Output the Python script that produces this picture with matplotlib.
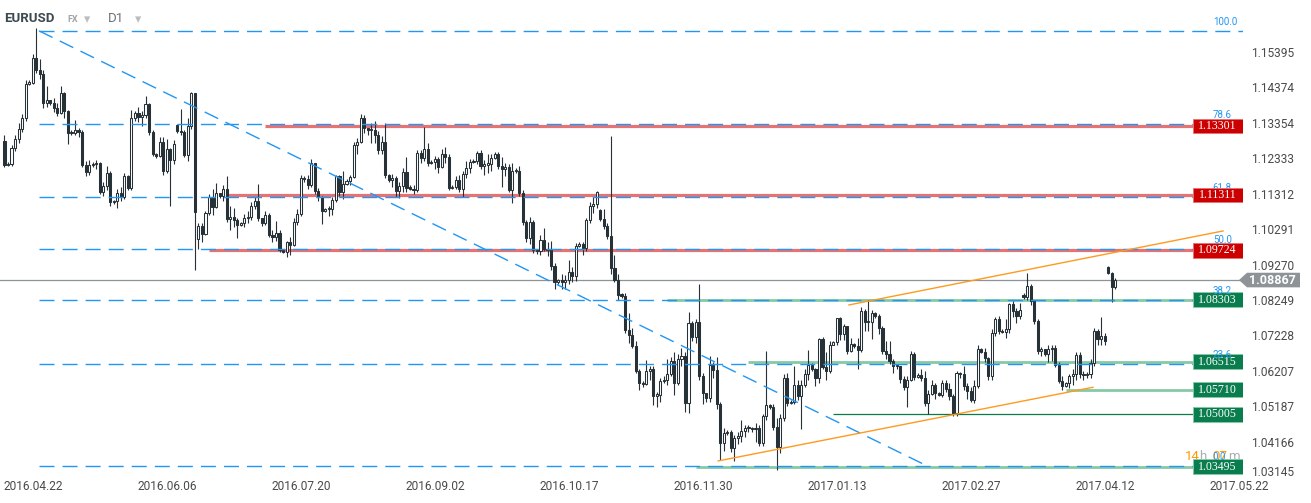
import matplotlib
matplotlib.use("Agg")
import numpy as np
import matplotlib.pyplot as plt
from matplotlib.patches import Rectangle, Polygon
from matplotlib.transforms import blended_transform_factory

plt.rcParams["font.family"] = ["Roboto", "DejaVu Sans"]
plt.rcParams["lines.scale_dashes"] = False

# ---- data (EURUSD D1, one candle per session incl. Sunday candles) ----
first_open = 1.1287
closes = [
    1.1218, 1.1222, 1.1266, 1.1294, 1.1322, 1.1352, 1.1452, 1.1455, 1.1525, 1.1491,
    1.1480, 1.1397, 1.1404, 1.1396, 1.1381, 1.1367, 1.1424, 1.1372, 1.1309, 1.1311,
    1.1320, 1.1312, 1.1218, 1.1198, 1.1218, 1.1221, 1.1224, 1.1140, 1.1156, 1.1194,
    1.1110, 1.1114, 1.1136, 1.1127, 1.1186, 1.1152, 1.1352, 1.1367, 1.1355, 1.1362,
    1.1392, 1.1312, 1.1250, 1.1244, 1.1283, 1.1200, 1.1264, 1.1231, 1.1277, 1.1316,
    1.1312, 1.1246, 1.1330, 1.1424, 1.1083, 1.1042, 1.1018, 1.1079, 1.1127, 1.1098,
    1.1136, 1.1128, 1.1148, 1.1062, 1.1068, 1.1060, 1.1046, 1.1051, 1.1065, 1.1068,
    1.1099, 1.1113, 1.1065, 1.1052, 1.1075, 1.1017, 1.1010, 1.1022, 1.0972, 1.0967,
    1.0995, 1.0988, 1.1055, 1.1078, 1.1180, 1.1178, 1.1160, 1.1223, 1.1144, 1.1125,
    1.1084, 1.1090, 1.1091, 1.1118, 1.1185, 1.1139, 1.1162, 1.1172, 1.1182, 1.1276,
    1.1285, 1.1352, 1.1323, 1.1318, 1.1320, 1.1305, 1.1261, 1.1283, 1.1190, 1.1175,
    1.1180, 1.1142, 1.1158, 1.1199, 1.1152, 1.1150, 1.1145, 1.1252, 1.1238, 1.1263,
    1.1223, 1.1227, 1.1234, 1.1213, 1.1249, 1.1240, 1.1151, 1.1154, 1.1175, 1.1150,
    1.1192, 1.1208, 1.1227, 1.1230, 1.1252, 1.1216, 1.1219, 1.1222, 1.1237, 1.1250,
    1.1214, 1.1206, 1.1212, 1.1147, 1.1200, 1.1202, 1.1137, 1.1053, 1.1008, 1.1055,
    1.0974, 1.0970, 1.1003, 1.0976, 1.0974, 1.0926, 1.0880, 1.0886, 1.0880, 1.0888,
    1.0909, 1.0897, 1.0986, 1.0990, 1.0978, 1.1059, 1.1101, 1.1106, 1.1140, 1.1062,
    1.1043, 1.1013, 1.0920, 1.0888, 1.0845, 1.0842, 1.0744, 1.0728, 1.0698, 1.0626,
    1.0590, 1.0588, 1.0625, 1.0630, 1.0554, 1.0557, 1.0595, 1.0600, 1.0616, 1.0653,
    1.0590, 1.0660, 1.0668, 1.0533, 1.0763, 1.0722, 1.0765, 1.0611, 1.0561, 1.0548,
    1.0642, 1.0628, 1.0531, 1.0419, 1.0446, 1.0448, 1.0403, 1.0432, 1.0438, 1.0451,
    1.0460, 1.0462, 1.0458, 1.0460, 1.0419, 1.0494, 1.0528, 1.0522, 1.0463, 1.0405,
    1.0490, 1.0605, 1.0533, 1.0535, 1.0586, 1.0554, 1.0586, 1.0615, 1.0642, 1.0630,
    1.0604, 1.0717, 1.0637, 1.0625, 1.0700, 1.0707, 1.0776, 1.0731, 1.0753, 1.0683,
    1.0703, 1.0697, 1.0685, 1.0798, 1.0767, 1.0765, 1.0792, 1.0784, 1.0750, 1.0683,
    1.0675, 1.0653, 1.0639, 1.0640, 1.0602, 1.0579, 1.0600, 1.0673, 1.0608, 1.0612,
    1.0605, 1.0533, 1.0560, 1.0585, 1.0562, 1.0557, 1.0590, 1.0573, 1.0552, 1.0503,
    1.0619, 1.0615, 1.0581, 1.0566, 1.0542, 1.0581, 1.0689, 1.0680, 1.0662, 1.0610,
    1.0735, 1.0774, 1.0740, 1.0737, 1.0745, 1.0818, 1.0798, 1.0784, 1.0800, 1.0838,
    1.0870, 1.0827, 1.0769, 1.0682, 1.0688, 1.0675, 1.0688, 1.0692, 1.0641, 1.0595,
    1.0583, 1.0590, 1.0610, 1.0615, 1.0672, 1.0615, 1.0612, 1.0616, 1.0648, 1.0740,
    1.0718, 1.0727, 1.0711, 1.0906, 1.0866, 1.0887,
]
highs = [
    1.1305, 1.1226, 1.1276, 1.1303, 1.1338, 1.1365, 1.1462, 1.1462, 1.1536, 1.1612,
    1.1524, 1.1490, 1.1445, 1.1405, 1.1410, 1.1395, 1.1444, 1.1428, 1.1377, 1.1318,
    1.1347, 1.1323, 1.1320, 1.1230, 1.1232, 1.1226, 1.1233, 1.1227, 1.1170, 1.1215,
    1.1200, 1.1118, 1.1150, 1.1155, 1.1196, 1.1190, 1.1375, 1.1372, 1.1385, 1.1372,
    1.1416, 1.1395, 1.1318, 1.1252, 1.1298, 1.1298, 1.1292, 1.1268, 1.1290, 1.1335,
    1.1380, 1.1318, 1.1352, 1.1428, 1.1426, 1.1050, 1.1050, 1.1085, 1.1135, 1.1150,
    1.1165, 1.1138, 1.1160, 1.1185, 1.1100, 1.1095, 1.1065, 1.1055, 1.1078, 1.1085,
    1.1110, 1.1125, 1.1163, 1.1066, 1.1085, 1.1080, 1.1030, 1.1058, 1.1030, 1.0975,
    1.1000, 1.1010, 1.1065, 1.1090, 1.1188, 1.1185, 1.1190, 1.1235, 1.1225, 1.1152,
    1.1128, 1.1095, 1.1100, 1.1125, 1.1190, 1.1190, 1.1200, 1.1178, 1.1190, 1.1285,
    1.1295, 1.1366, 1.1363, 1.1325, 1.1340, 1.1345, 1.1315, 1.1300, 1.1340, 1.1192,
    1.1192, 1.1185, 1.1170, 1.1210, 1.1240, 1.1160, 1.1160, 1.1262, 1.1262, 1.1327,
    1.1280, 1.1232, 1.1245, 1.1240, 1.1265, 1.1270, 1.1250, 1.1160, 1.1185, 1.1190,
    1.1200, 1.1230, 1.1235, 1.1235, 1.1258, 1.1260, 1.1232, 1.1250, 1.1250, 1.1255,
    1.1255, 1.1240, 1.1225, 1.1220, 1.1225, 1.1210, 1.1215, 1.1145, 1.1060, 1.1068,
    1.1060, 1.0976, 1.1015, 1.1037, 1.0995, 1.1000, 1.0935, 1.0890, 1.0905, 1.0902,
    1.0945, 1.0925, 1.0993, 1.0995, 1.0995, 1.1065, 1.1110, 1.1125, 1.1143, 1.1090,
    1.1090, 1.1050, 1.1300, 1.0960, 1.0905, 1.0850, 1.0850, 1.0792, 1.0750, 1.0710,
    1.0630, 1.0595, 1.0657, 1.0640, 1.0640, 1.0565, 1.0605, 1.0610, 1.0660, 1.0665,
    1.0680, 1.0675, 1.0690, 1.0680, 1.0796, 1.0770, 1.0775, 1.0874, 1.0620, 1.0562,
    1.0668, 1.0650, 1.0665, 1.0535, 1.0460, 1.0455, 1.0455, 1.0440, 1.0450, 1.0484,
    1.0470, 1.0468, 1.0465, 1.0475, 1.0470, 1.0500, 1.0683, 1.0530, 1.0530, 1.0490,
    1.0500, 1.0615, 1.0620, 1.0540, 1.0639, 1.0600, 1.0600, 1.0630, 1.0685, 1.0648,
    1.0633, 1.0720, 1.0722, 1.0680, 1.0710, 1.0712, 1.0778, 1.0780, 1.0760, 1.0755,
    1.0720, 1.0706, 1.0720, 1.0810, 1.0802, 1.0830, 1.0800, 1.0795, 1.0790, 1.0755,
    1.0710, 1.0710, 1.0660, 1.0643, 1.0640, 1.0610, 1.0610, 1.0683, 1.0680, 1.0618,
    1.0630, 1.0625, 1.0570, 1.0600, 1.0590, 1.0565, 1.0600, 1.0600, 1.0590, 1.0560,
    1.0625, 1.0622, 1.0640, 1.0590, 1.0580, 1.0600, 1.0700, 1.0692, 1.0690, 1.0665,
    1.0745, 1.0780, 1.0782, 1.0745, 1.0775, 1.0820, 1.0825, 1.0805, 1.0820, 1.0848,
    1.0908, 1.0875, 1.0830, 1.0775, 1.0695, 1.0688, 1.0700, 1.0700, 1.0700, 1.0650,
    1.0610, 1.0592, 1.0615, 1.0630, 1.0680, 1.0680, 1.0625, 1.0622, 1.0660, 1.0750,
    1.0745, 1.0779, 1.0735, 1.0928, 1.0910, 1.0893,
]
lows = [
    1.1212, 1.1214, 1.1215, 1.1258, 1.1282, 1.1312, 1.1345, 1.1448, 1.1450, 1.1484,
    1.1465, 1.1382, 1.1386, 1.1391, 1.1370, 1.1360, 1.1364, 1.1352, 1.1277, 1.1305,
    1.1303, 1.1298, 1.1212, 1.1185, 1.1190, 1.1212, 1.1205, 1.1134, 1.1130, 1.1145,
    1.1100, 1.1106, 1.1095, 1.1115, 1.1120, 1.1145, 1.1145, 1.1345, 1.1342, 1.1330,
    1.1352, 1.1305, 1.1243, 1.1238, 1.1240, 1.1190, 1.1196, 1.1100, 1.1222, 1.1310,
    1.1305, 1.1240, 1.1230, 1.1322, 1.0916, 1.0975, 1.0995, 1.1015, 1.1075, 1.1075,
    1.1095, 1.1122, 1.1115, 1.1055, 1.1032, 1.1040, 1.1007, 1.1043, 1.1040, 1.1052,
    1.1060, 1.1092, 1.1058, 1.1043, 1.1045, 1.1010, 1.0995, 1.1000, 1.0968, 1.0964,
    1.0953, 1.0960, 1.0985, 1.1045, 1.1070, 1.1170, 1.1150, 1.1155, 1.1135, 1.1115,
    1.1049, 1.1082, 1.1070, 1.1075, 1.1110, 1.1130, 1.1120, 1.1160, 1.1160, 1.1180,
    1.1250, 1.1282, 1.1310, 1.1305, 1.1280, 1.1280, 1.1250, 1.1250, 1.1180, 1.1170,
    1.1155, 1.1125, 1.1122, 1.1140, 1.1140, 1.1145, 1.1135, 1.1140, 1.1225, 1.1230,
    1.1215, 1.1220, 1.1205, 1.1195, 1.1210, 1.1225, 1.1145, 1.1148, 1.1150, 1.1140,
    1.1127, 1.1180, 1.1195, 1.1225, 1.1220, 1.1205, 1.1190, 1.1195, 1.1200, 1.1235,
    1.1205, 1.1155, 1.1185, 1.1140, 1.1108, 1.1195, 1.1130, 1.1045, 1.0995, 1.0990,
    1.0965, 1.0962, 1.0960, 1.0970, 1.0955, 1.0915, 1.0862, 1.0876, 1.0860, 1.0860,
    1.0875, 1.0880, 1.0885, 1.0983, 1.0960, 1.0970, 1.1050, 1.1080, 1.1095, 1.1058,
    1.1035, 1.1005, 1.0905, 1.0880, 1.0830, 1.0835, 1.0735, 1.0705, 1.0690, 1.0620,
    1.0571, 1.0580, 1.0585, 1.0600, 1.0528, 1.0520, 1.0535, 1.0590, 1.0585, 1.0610,
    1.0557, 1.0585, 1.0640, 1.0508, 1.0505, 1.0710, 1.0705, 1.0600, 1.0530, 1.0535,
    1.0535, 1.0605, 1.0515, 1.0370, 1.0395, 1.0440, 1.0392, 1.0365, 1.0415, 1.0420,
    1.0435, 1.0450, 1.0448, 1.0420, 1.0408, 1.0410, 1.0485, 1.0515, 1.0455, 1.0341,
    1.0390, 1.0480, 1.0525, 1.0530, 1.0530, 1.0540, 1.0458, 1.0580, 1.0600, 1.0625,
    1.0581, 1.0590, 1.0630, 1.0600, 1.0620, 1.0700, 1.0700, 1.0715, 1.0715, 1.0675,
    1.0680, 1.0690, 1.0630, 1.0680, 1.0740, 1.0740, 1.0716, 1.0778, 1.0730, 1.0675,
    1.0660, 1.0645, 1.0620, 1.0630, 1.0590, 1.0570, 1.0522, 1.0595, 1.0600, 1.0605,
    1.0595, 1.0525, 1.0502, 1.0555, 1.0545, 1.0553, 1.0550, 1.0565, 1.0540, 1.0496,
    1.0495, 1.0606, 1.0570, 1.0545, 1.0535, 1.0532, 1.0575, 1.0678, 1.0650, 1.0600,
    1.0600, 1.0725, 1.0730, 1.0733, 1.0721, 1.0735, 1.0780, 1.0762, 1.0775, 1.0832,
    1.0830, 1.0815, 1.0760, 1.0675, 1.0668, 1.0668, 1.0650, 1.0655, 1.0635, 1.0590,
    1.0570, 1.0580, 1.0576, 1.0585, 1.0600, 1.0605, 1.0600, 1.0605, 1.0605, 1.0640,
    1.0700, 1.0700, 1.0699, 1.0905, 1.0823, 1.0860,
]
# weekend gaps: candles whose open differs from the previous close
gap_opens = {49: 1.1333, 55: 1.1005, 169: 1.1087, 289: 1.0845, 313: 1.0925}

date_ticks = [0, 38, 76, 114, 152, 190, 228, 266, 304, 342]
date_labels = ["2016.04.22", "2016.06.06", "2016.07.20", "2016.09.02", "2016.10.17",
               "2016.11.30", "2017.01.13", "2017.02.27", "2017.04.12", "2017.05.22"]
price_ticks = [1.15395, 1.14374, 1.13354, 1.12333, 1.11312, 1.10291, 1.09270,
               1.08249, 1.07228, 1.06207, 1.05187, 1.04166, 1.03145]

last_price = 1.08867
red_levels = [1.13301, 1.11311, 1.09724]
red_starts = [74, 63, 58]
green_levels = [1.08303, 1.06515, 1.05710, 1.05005, 1.03495]
green_starts = [188, 211, 301, 235, 196]

fib_ratios = [0.0, 23.6, 38.2, 50.0, 61.8, 78.6, 100.0]
fib_low, fib_high = 1.0350, 1.1604
fib_start, fib_end = 9.8, 262

upper_trend_x, upper_trend_y = [239.5, 345.6], [1.0815, 1.1028]
lower_trend_x, lower_trend_y = [202.4, 308.7], [1.0366, 1.0578]

# ---- figure ----
W, H = 1311, 503
fig = plt.figure(figsize=(W / 100, H / 100), dpi=100)
ax = fig.add_axes([0, 24 / H, 1243 / W, 479 / H])
ax.set_xlim(-1.276, 351.25)
ax.set_ylim(1.03140, 1.16928)
ax.axis("off")
pp = (1.16928 - 1.03140) / 479  # price per pixel
tr = blended_transform_factory(ax.transAxes, ax.transData)
dark = "#263238"
blue = "#2196F3"

closes = np.array(closes)
highs = np.array(highs)
lows = np.array(lows)
opens = np.r_[first_open, closes[:-1]]
for k, v in gap_opens.items():
    opens[k] = v
idx = np.arange(len(closes))

# current price line
ax.axhline(last_price, color="#8d9396", lw=0.9, zorder=1)

# support / resistance lines
for lv, st in zip(red_levels, red_starts):
    ax.hlines(lv, st, 351.25, color="#e57373", lw=2.3, zorder=2)
for lv, st in zip(green_levels, green_starts):
    if lv == 1.05005:
        ax.hlines(lv, st, 351.25, color="#0b7a4b", lw=0.9, zorder=2)
    else:
        ax.hlines(lv, st, 351.25, color="#86c9a6", lw=2.0, zorder=2)

# candles
ax.vlines(idx, lows, highs, color=dark, lw=0.8, zorder=3)
up = closes >= opens
bot = np.minimum(opens, closes)
hgt = np.maximum(np.abs(closes - opens), 1.2 * pp)
ax.bar(idx[up], hgt[up], bottom=bot[up], width=0.6, facecolor="white",
       edgecolor=dark, lw=0.75, zorder=3.5)
ax.bar(idx[~up], hgt[~up], bottom=bot[~up], width=0.6, facecolor=dark,
       edgecolor=dark, lw=0.75, zorder=3.5)

# fibonacci retracement
dash = (10.8, 5.8)
for r in fib_ratios:
    lv = fib_low + (fib_high - fib_low) * r / 100
    ax.plot([fib_start, 351.25], [lv, lv], color=blue, lw=1.0, dashes=dash, zorder=4)
    ax.text(342.7, lv + 6 * pp, f"{r:.1f}", color=blue, fontsize=7,
            ha="left", va="baseline", zorder=6)
ax.plot([fib_start, fib_end], [fib_high, fib_low], color=blue, lw=1.0,
        dashes=dash, zorder=4)

# trend channel
ax.plot(upper_trend_x, upper_trend_y, color="#ff9a1f", lw=1.0, zorder=4)
ax.plot(lower_trend_x, lower_trend_y, color="#ff9a1f", lw=1.0, zorder=4)

# countdown text
cy = green_levels[-1] + 10.5 * pp
for txt, px, col in [("14", 1185, "#ff9800"), ("h", 1199, "#a9adb0"),
                     ("07", 1212, "#ff9800"), ("m", 1228, "#a9adb0")]:
    ax.text(px / 1243, cy, txt, transform=tr, color=col, fontsize=9.5,
            ha="left", va="center", zorder=4.8, clip_on=False)

# price boxes
bx0, bw, bh = 1192.7 / 1243, 50 / 1243, 7.3 * pp
for lv in red_levels:
    ax.add_patch(Rectangle((bx0, lv - bh), bw, 2 * bh, transform=tr,
                           facecolor="#cc0000", edgecolor="#e57373", lw=0.7, zorder=7))
    ax.text(bx0 + bw / 2, lv, f"{lv:.5f}", transform=tr, color="white",
            family="Liberation Serif", fontsize=8.6, ha="center", va="center", zorder=7.5)
for lv in green_levels:
    ax.add_patch(Rectangle((bx0, lv - bh), bw, 2 * bh, transform=tr,
                           facecolor="#0a7d4e", edgecolor="#86c9a6", lw=0.7, zorder=5))
    ax.text(bx0 + bw / 2, lv, f"{lv:.5f}", transform=tr, color="white",
            family="Liberation Serif", fontsize=8.6, ha="center", va="center", zorder=5.5)

# current price tag
tag = Polygon([(1239 / 1243, last_price), (1247 / 1243, last_price + bh),
               (1300 / 1243, last_price + bh), (1300 / 1243, last_price - bh),
               (1247 / 1243, last_price - bh)], closed=True, transform=tr,
              facecolor="#8d9396", edgecolor="none", zorder=8, clip_on=False)
ax.add_patch(tag)
ax.text(1272 / 1243, last_price, f"{last_price:.5f}", transform=tr, color="white",
        fontsize=9, fontweight="bold", ha="center", va="center", zorder=9, clip_on=False)

# price axis labels
for k, v in enumerate(price_ticks):
    ax.text(1251 / 1243, v, f"{v:.5f}", transform=tr, color="#4a4a4a", fontsize=8.6,
            ha="left", va="bottom" if k == len(price_ticks) - 1 else "center",
            clip_on=False)

# date labels
trx = blended_transform_factory(ax.transData, ax.transAxes)
for t, lab in zip(date_ticks, date_labels):
    ax.text(t - 0.2, -7 / 479, lab, transform=trx, color="#4a4a4a", fontsize=8.6,
            ha="left", va="center", clip_on=False)

# header
fig.text(4.5 / W, 1 - 19 / H, "EURUSD", color="#3d4a52", fontsize=9.5,
         fontweight="bold", ha="left", va="center")
fig.text(67 / W, 1 - 19 / H, "FX", color="#a0a4a8", fontsize=6.5,
         fontweight="bold", ha="left", va="center")
fig.text(108 / W, 1 - 19 / H, "D1", color="#6b7378", fontsize=9.5,
         ha="left", va="center")
for px in (84, 135):
    fig.text(px / W, 1 - 20 / H, "\u25be", color="#bdbdbd", fontsize=9,
             family=["DejaVu Sans"], ha="left", va="center")

fig.savefig("out.png", dpi=100, facecolor="white")
